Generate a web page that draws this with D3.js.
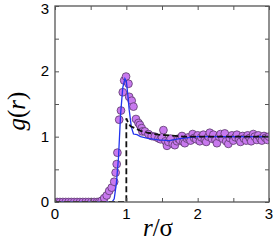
<!DOCTYPE html>
<html>
<head>
<meta charset="utf-8">
<script src="https://cdn.jsdelivr.net/npm/d3@7"></script>
<style>
  body { margin: 0; background: #fff; }
  svg { display: block; }
</style>
</head>
<body>
<div id="vis"></div>
<script>
// simulation points g(r)
const rPts = [0.03,0.07,0.11,0.15,0.19,0.23,0.27,0.31,0.35,0.39,0.43,0.47,0.51,0.55,0.59,0.62,
  0.655,0.69,0.725,0.76,0.795,0.83,0.85,0.865,0.875,0.90,0.925,0.95,0.97,0.996,1.03,1.04,1.075,1.10,
  1.135,1.17,1.19,1.215,1.225,1.26,1.31,1.355,1.40,
  1.45,1.48,1.50,1.52,1.55,1.57,1.59,1.62,1.65,1.68,1.71,1.73,1.75,1.78,1.80,1.82,1.85,1.87,1.90,1.93,1.95,1.98,
  2.00,2.03,2.05,2.08,2.10,2.12,2.15,2.17,2.20,2.22,2.25,2.27,2.30,2.32,2.35,2.38,2.40,2.43,2.45,2.48,
  2.50,2.53,2.55,2.58,2.60,2.63,2.65,2.68,2.70,2.73,2.75,2.78,2.80,2.83,2.85,2.88,2.90,2.93,2.95,2.98,3.00];
const gPts = [0,0,0,0,0,0,0,0,0,0,0,0,0,0,0,0,
  0.02,0.06,0.10,0.17,0.22,0.31,0.45,0.58,0.755,1.26,1.40,1.68,1.86,1.92,1.81,1.61,1.55,1.46,
  1.27,1.21,1.18,1.13,1.08,1.08,1.04,1.01,1.00,
  0.975,0.96,0.99,1.10,0.93,0.86,0.92,0.97,0.89,0.87,0.93,0.97,0.95,1.01,0.92,0.90,0.97,0.99,0.94,1.04,0.98,0.96,
  1.02,0.93,0.99,1.03,0.95,0.92,1.00,1.06,0.97,1.03,0.95,0.90,1.00,1.04,0.97,1.05,0.93,0.89,0.98,1.02,
  0.94,0.99,1.03,0.96,0.92,1.01,0.97,0.94,1.02,0.98,0.93,1.04,1.00,0.95,1.02,0.97,0.94,1.01,0.98,0.95,1.00];

// theory (blue)
const rBlue = [0,0.80,0.83,0.86,0.89,0.92,0.95,0.98,1.00,1.02,1.04,1.07,1.10,1.15,1.20,1.30,1.45,1.60,1.75,1.90,2.00,3.00];
const gBlue = [0,0,0.05,0.28,0.68,1.35,1.75,1.89,1.85,1.65,1.41,1.15,1.04,1.03,1.00,0.975,0.95,0.94,0.97,0.99,1.00,1.00];

// hard sphere (black dashed)
const rHS = [0,1.0,1.0,1.03,1.06,1.12,1.20,1.30,1.45,1.60,1.80,3.00];
const gHS = [0,0,1.28,1.20,1.16,1.13,1.09,1.06,1.03,1.02,1.00,1.00];

const xTicks = [0,1,2,3];
const yTicks = [0,1,2,3];

const W = 273, H = 252;
const m = {left: 55, right: 4, top: 6, bottom: 50};

const svg = d3.select("#vis").append("svg")
  .attr("width", W)
  .attr("height", H);

const x = d3.scaleLinear().domain([0,3]).range([m.left, W - m.right]);
const y = d3.scaleLinear().domain([0,3]).range([H - m.bottom, m.top]);

svg.append("clipPath").attr("id","clip")
  .append("rect")
  .attr("x", m.left).attr("y", m.top)
  .attr("width", W - m.right - m.left)
  .attr("height", H - m.bottom - m.top);

const plot = svg.append("g").attr("clip-path","url(#clip)");

plot.selectAll("circle")
  .data(d3.range(rPts.length))
  .enter().append("circle")
  .attr("cx", i => x(rPts[i]))
  .attr("cy", i => y(gPts[i]))
  .attr("r", 3.9)
  .attr("fill", "#c879ee")
  .attr("stroke", "#5a3a6a")
  .attr("stroke-width", 0.8);

const line = d3.line().x(d => x(d[0])).y(d => y(d[1]));

plot.append("path")
  .datum(rBlue.map((r,i) => [r, gBlue[i]]))
  .attr("d", line)
  .attr("fill","none")
  .attr("stroke","#2233ee")
  .attr("stroke-width",1.3);

plot.append("path")
  .datum(rHS.map((r,i) => [r, gHS[i]]))
  .attr("d", line)
  .attr("fill","none")
  .attr("stroke","#111")
  .attr("stroke-width",1.8)
  .attr("stroke-dasharray","6,3");

// frame + ticks
const axCol = "#555";
const minor = d3.range(0, 3.01, 0.5);

svg.append("g")
  .attr("transform", "translate(0," + y(0) + ")")
  .call(d3.axisBottom(x).tickValues(minor).tickSize(-4).tickFormat(""))
  .call(g => g.select(".domain").remove());
svg.append("g")
  .attr("transform", "translate(0," + y(3) + ")")
  .call(d3.axisTop(x).tickValues(minor).tickSize(-4).tickFormat(""))
  .call(g => g.select(".domain").remove());
svg.append("g")
  .attr("transform", "translate(" + x(0) + ",0)")
  .call(d3.axisLeft(y).tickValues(minor).tickSize(-4).tickFormat(""))
  .call(g => g.select(".domain").remove());
svg.append("g")
  .attr("transform", "translate(" + x(3) + ",0)")
  .call(d3.axisRight(y).tickValues(minor).tickSize(-4).tickFormat(""))
  .call(g => g.select(".domain").remove());
svg.selectAll(".tick line").attr("stroke", axCol).attr("stroke-width", 1);

svg.append("rect")
  .attr("x", x(0)).attr("y", y(3))
  .attr("width", x(3) - x(0)).attr("height", y(0) - y(3))
  .attr("fill","none").attr("stroke", axCol).attr("stroke-width", 1.3);

// tick labels
svg.selectAll(".xl").data(xTicks).enter().append("text")
  .attr("x", d => x(d)).attr("y", y(0) + 17)
  .attr("text-anchor","middle")
  .attr("font-family","Liberation Sans, Arial, sans-serif")
  .attr("font-size", 15)
  .text(d => d);
svg.selectAll(".yl").data(yTicks).enter().append("text")
  .attr("x", x(0) - 6).attr("y", d => Math.max(y(d) + 5, 14))
  .attr("text-anchor","end")
  .attr("font-family","Liberation Sans, Arial, sans-serif")
  .attr("font-size", 15)
  .text(d => d);

// axis titles
const xt = svg.append("text")
  .attr("x", 158).attr("y", 236)
  .attr("text-anchor","middle")
  .attr("font-family","Liberation Serif, Times New Roman, serif")
  .attr("font-size", 25);
xt.append("tspan").attr("font-style","italic").text("r");
xt.append("tspan").text("/σ");

const yt = svg.append("text")
  .attr("transform","translate(25,111) rotate(-90)")
  .attr("text-anchor","middle")
  .attr("font-family","Liberation Serif, Times New Roman, serif")
  .attr("font-size", 25);
yt.append("tspan").attr("font-style","italic").text("g");
yt.append("tspan").text("(");
yt.append("tspan").attr("font-style","italic").text("r");
yt.append("tspan").text(")");
</script>
</body>
</html>
